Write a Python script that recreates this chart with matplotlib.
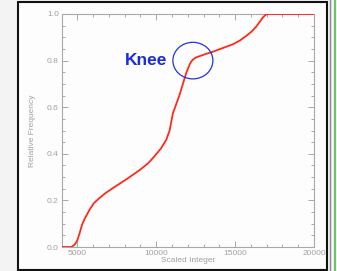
import matplotlib
matplotlib.use("Agg")
import matplotlib.pyplot as plt
from matplotlib.patches import Ellipse, Rectangle
from matplotlib.lines import Line2D
from matplotlib.ticker import MultipleLocator

# Data
scaled_integer = [4000, 4620, 4830, 5000, 5150, 5300, 5460, 5780, 6050, 6400, 6800,
                  7260, 8100, 8950, 9500, 9900, 10300, 10640, 10850, 11060, 11480,
                  11900, 12100, 12220, 12380, 12540, 13170, 13600, 14020, 14860,
                  15300, 15710, 16050, 16340, 16600, 16770, 16950, 17080, 20000]
relative_freq = [0.0, 0.0, 0.01, 0.028, 0.06, 0.095, 0.12, 0.16, 0.188, 0.21, 0.232,
                 0.253, 0.29, 0.33, 0.36, 0.39, 0.423, 0.46, 0.50, 0.574, 0.653,
                 0.746, 0.78, 0.796, 0.807, 0.814, 0.829, 0.838, 0.849, 0.87,
                 0.886, 0.906, 0.925, 0.946, 0.97, 0.986, 0.997, 1.0, 1.0]
x_ticks = [5000, 10000, 15000, 20000]
y_ticks = [0.0, 0.2, 0.4, 0.6, 0.8, 1.0]
knee_label = "Knee"
knee_center = (12325, 0.80)

W, H = 337, 271
fig = plt.figure(figsize=(W / 100, H / 100), dpi=100)
fig.patch.set_facecolor("#f3f3f3")

def fx(px):
    return px / W

def fy(py):
    return 1 - py / H

# screenshot frame
fig.patches.append(Rectangle((fx(18), fy(270)), fx(327) - fx(18), fy(2) - fy(270),
                             transform=fig.transFigure, facecolor="#fdfdfd",
                             edgecolor="#111111", linewidth=1.5, zorder=-10))
fig.lines.append(Line2D([fx(329.5), fx(329.5)], [0, 1], transform=fig.transFigure,
                        color="#888888", linewidth=1.0, zorder=-10))
fig.lines.append(Line2D([fx(334.5), fx(334.5)], [0, 1], transform=fig.transFigure,
                        color="#6cc46c", linewidth=1.5, zorder=-10))

ax = fig.add_axes([fx(61.5), fy(247), fx(314) - fx(61.5), fy(14) - fy(247)])
ax.set_zorder(5)
ax.set_facecolor("#fdfdfd")
ax.set_xlim(4000, 20000)
ax.set_ylim(0, 1.0)

ax.plot(scaled_integer, relative_freq, color="#ff2a1a", linewidth=1.3,
        solid_capstyle="round", solid_joinstyle="round", zorder=3)

ax.add_patch(Ellipse(knee_center, width=2535, height=0.157, fill=False,
                     edgecolor="#2233dd", linewidth=0.9, zorder=4))
ax.text(9370, 0.80, knee_label, color="#1a2be0", fontsize=12.5, fontweight="bold",
        family="Liberation Sans", ha="center", va="center")

gray = "#a8a8a8"
for s in ax.spines.values():
    s.set_color(gray)
    s.set_linewidth(0.8)

ax.set_xticks(x_ticks)
ax.set_yticks(y_ticks)
ax.set_xticklabels([str(v) for v in x_ticks])
ax.set_yticklabels([f"{v:.1f}" for v in y_ticks])
ax.xaxis.set_minor_locator(MultipleLocator(1000))
ax.yaxis.set_minor_locator(MultipleLocator(0.05))
ax.tick_params(which="both", direction="in", top=True, right=True, color=gray,
               labelcolor="#a0a0a0", labelsize=6, width=0.7)
ax.tick_params(which="major", length=4, pad=2)
ax.tick_params(which="minor", length=2)
for lab in ax.get_xticklabels() + ax.get_yticklabels():
    lab.set_family("Liberation Sans")

ax.set_xlabel("Scaled Integer", color="#a0a0a0", fontsize=6, family="Liberation Sans",
              labelpad=0)
ax.set_ylabel("Relative Frequency", color="#a0a0a0", fontsize=6, family="Liberation Sans",
              labelpad=8)

fig.savefig("out.png", dpi=100, facecolor=fig.get_facecolor())
